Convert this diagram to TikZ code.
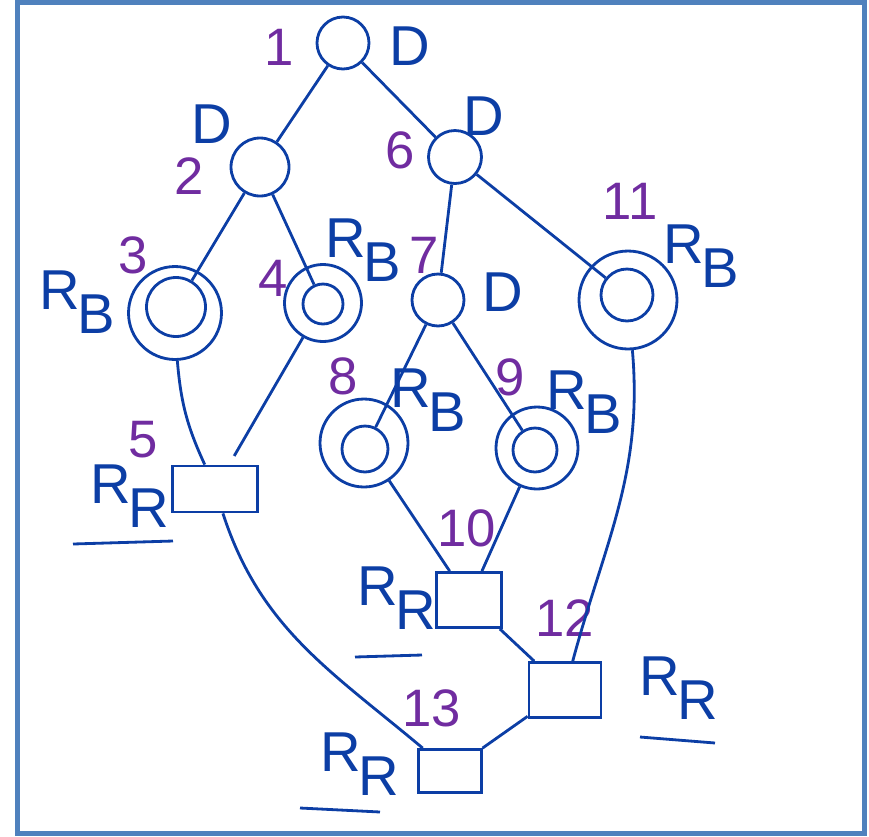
\documentclass[tikz,border=0pt]{standalone}
\usepackage{fontspec}
\setmainfont{Liberation Sans}
\usetikzlibrary{positioning}
\definecolor{ink}{RGB}{12,62,165}
\definecolor{numink}{RGB}{112,44,160}
\definecolor{framecol}{RGB}{79,129,189}
% letter with a big lowered index, as in R_B and R_R
\newcommand{\lowidx}[2]{#1\kern-0.04em\raisebox{-0.42em}{#2}}

\tikzset{
  dstate/.style={circle, draw=ink, line width=1.6pt, inner sep=0pt, minimum size=#1},
  rbouter/.style={circle, draw=ink, line width=1.6pt, inner sep=0pt, minimum size=#1},
  rbinner/.style={circle, draw=ink, line width=1.6pt, inner sep=0pt, minimum size=#1},
  rrbox/.style={rectangle, draw=ink, line width=1.6pt, inner sep=0pt},
  numlbl/.style={text=numink, font=\fontsize{30}{30}\selectfont, inner sep=0pt},
  typlbl/.style={text=ink, font=\fontsize{32}{32}\selectfont, inner sep=0pt},
  link/.style={draw=ink, line width=1.6pt},
  uline/.style={draw=ink, line width=1.6pt}
}

\begin{document}
\begin{tikzpicture}[x=0.02cm, y=-0.02cm]
  \useasboundingbox (0,0) rectangle (869,836);
  \draw[framecol, line width=0.1cm] (17.5,2.5) rectangle (864.5,833.5);

  % top part: decision nodes
  \node[dstate=1.04cm] (n1) at (343,43) {};
  \node[dstate=1.16cm] (n2) at (260,167) {};
  \node[dstate=1.06cm] (n6) at (455,157) {};
  \node[dstate=1.04cm] (n7) at (438,300) {};

  % R_B nodes
  \node[rbouter=1.86cm] (n3) at (175,313) {};
  \node[rbinner=1.18cm] (n3in) at (176,307) {};
  \node[rbouter=1.54cm] (n4) at (323,303) {};
  \node[rbinner=0.80cm] (n4in) at (323,304) {};
  \node[rbouter=1.96cm] (n11) at (628,300) {};
  \node[rbinner=1.04cm] (n11in) at (627,295) {};
  \node[rbouter=1.76cm] (n8) at (364,443) {};
  \node[rbinner=0.92cm] (n8in) at (365,449) {};
  \node[rbouter=1.64cm] (n9) at (537,448) {};
  \node[rbinner=0.88cm] (n9in) at (535,450) {};

  % R_R boxes
  \node[rrbox, minimum width=1.7cm, minimum height=0.92cm] (n5) at (215,489) {};
  \node[rrbox, minimum width=1.3cm, minimum height=1.1cm] (n10) at (469,600) {};
  \node[rrbox, minimum width=1.44cm, minimum height=1.1cm] (n12) at (565,690) {};
  \node[rrbox, minimum width=1.26cm, minimum height=0.86cm] (n13) at (450,771) {};

  % numbers
  \node[numlbl] (k1) at (279,47) {1};
  \node[numlbl] (k2) at (189,176) {2};
  \node[numlbl] (k3) at (133,255) {3};
  \node[numlbl] (k4) at (273,278) {4};
  \node[numlbl] (k5) at (143,440) {5};
  \node[numlbl] (k6) at (400,150) {6};
  \node[numlbl] (k7) at (424,255) {7};
  \node[numlbl] (k8) at (343,376) {8};
  \node[numlbl] (k9) at (510,377) {9};
  \node[numlbl] (k10) at (467,528) {10};
  \node[numlbl] (k11) at (630,201) {11};
  \node[numlbl] (k12) at (565,618) {12};
  \node[numlbl] (k13) at (432,708) {13};

  % node types
  \node[typlbl] (t1) at (410,46) {D};
  \node[typlbl] (t2) at (212,124) {D};
  \node[typlbl] (t6) at (484,116) {D};
  \node[typlbl] (t7) at (503,292) {D};
  \node[typlbl] (t3) at (77,302) {\lowidx{R}{B}};
  \node[typlbl] (t4) at (363,250) {\lowidx{R}{B}};
  \node[typlbl] (t11) at (701,256) {\lowidx{R}{B}};
  \node[typlbl] (t8) at (428,400) {\lowidx{R}{B}};
  \node[typlbl] (t9) at (584,402) {\lowidx{R}{B}};
  \node[typlbl] (t5) at (130,496) {\lowidx{R}{R}};
  \node[typlbl] (t10) at (397,598) {\lowidx{R}{R}};
  \node[typlbl] (t12) at (679,688) {\lowidx{R}{R}};
  \node[typlbl] (t13) at (360,764) {\lowidx{R}{R}};

  \draw[uline] (73,544) -- (173,541);
  \draw[uline] (355,657) -- (422,655);
  \draw[uline] (640,737) -- (715,743);
  \draw[uline] (300,808) -- (380,812);

  % edges
  \path[link]
    (n1) edge (n2)
         edge (n6)
    (n2) edge (n3in)
         edge (n4in)
    (n6) edge (n7)
         edge (n11in)
    (n7) edge (n8in)
         edge (n9in)
    (n3) edge[bend right=10] (n5)
    (n4) edge[shorten >=0.2cm] (n5)
    (n8) edge (n10)
    (n9) edge (n10)
    (n10) edge (n12)
    (n12) edge (n13)
    (n11) edge[out=-85, in=75] (n12)
    (n5) edge[out=-72, in=140] (n13);
\end{tikzpicture}
\end{document}
